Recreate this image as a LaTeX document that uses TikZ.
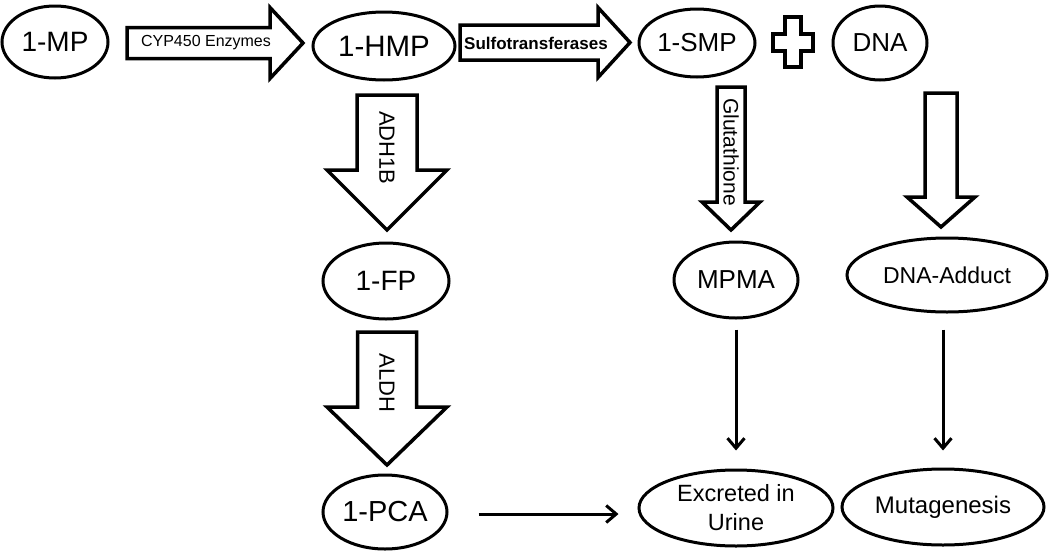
\documentclass[tikz,border=0pt]{standalone}
\usepackage{fontspec}
\setmainfont{Liberation Sans}
\usetikzlibrary{shapes.geometric,arrows.meta}
\tikzset{
  ell/.style={ellipse, draw, line width=3pt, inner sep=0pt, align=center},
  blk/.style={draw, line width=3.5pt, line join=miter, fill=white},
  thinarr/.style={line width=3pt, -{Straight Barb[length=10pt,width=17pt]}},
  big/.style={font=\fontsize{28}{32}\selectfont},
  mid/.style={font=\fontsize{26}{30}\selectfont},
  small/.style={font=\fontsize{23.5}{29}\selectfont},
  vlab/.style={rotate=-90, inner sep=0pt, font=\fontsize{22}{26}\selectfont},
}
\newcommand{\hblock}[6]{\draw[blk] (#1,#3-#4) -- (#2-#6,#3-#4) -- (#2-#6,#3-#5) -- (#2,#3) -- (#2-#6,#3+#5) -- (#2-#6,#3+#4) -- (#1,#3+#4) -- cycle;}
\newcommand{\vblock}[6]{\draw[blk] (#1-#4,#2) -- (#1+#4,#2) -- (#1+#4,#3-#6) -- (#1+#5,#3-#6) -- (#1,#3) -- (#1-#5,#3-#6) -- (#1-#4,#3-#6) -- cycle;}
\begin{document}
\begin{tikzpicture}[x=1pt,y=-1pt]
\useasboundingbox (0,0) rectangle (1050,552);
% ellipses
\node[ell, big, minimum width=106pt, minimum height=72pt] (mp) at (55,42) {1-MP};
\node[ell, big, minimum width=142pt, minimum height=68pt, font=\fontsize{29.5}{33}\selectfont] (hmp) at (384,46) {1-HMP};
\node[ell, mid, minimum width=116pt, minimum height=68pt] (smp) at (697,43) {1-SMP};
\node[ell, mid, minimum width=94pt, minimum height=74pt] (dna) at (880,43) {DNA};
\node[ell, big, minimum width=126pt, minimum height=76pt] (fp) at (386,281) {1-FP};
\node[ell, big, minimum width=124pt, minimum height=74pt, font=\fontsize{29}{33}\selectfont] (pca) at (385,512) {1-PCA};
\node[ell, mid, minimum width=124pt, minimum height=76pt] (mpma) at (736,280) {MPMA};
\node[ell, small, minimum width=200pt, minimum height=74pt, font=\fontsize{23}{28}\selectfont] (adduct) at (947,275) {DNA-Adduct};
\node[ell, small, minimum width=194pt, minimum height=76pt] (urine) at (736,508) {Excreted in\\Urine};
\node[ell, small, minimum width=202pt, minimum height=76pt, font=\fontsize{24}{28}\selectfont] (muta) at (943,507) {Mutagenesis};
% block arrows
\hblock{127}{303}{43}{15.5}{35.5}{33}
\node[inner sep=0pt, font=\fontsize{16}{18}\selectfont] (cyp) at (206,43) {CYP450 Enzymes};
\hblock{460}{630}{42.5}{17.5}{35}{32}
\node[inner sep=0pt, font=\bfseries\fontsize{17}{19}\selectfont] (sulfo) at (536,43) {Sulfotransferases};
\vblock{387}{95}{230}{30}{60}{60}
\node[vlab] (adh) at (387,148) {ADH1B};
\vblock{387}{332}{465}{29.5}{60}{58}
\node[vlab] (aldh) at (387,383) {ALDH};
\vblock{731}{87}{230}{14}{29}{28}
\node[vlab, font=\fontsize{21}{25}\selectfont] (glu) at (731,152) {Glutathione};
\vblock{941}{93}{227}{16}{34}{30}
% plus sign
\draw[blk] (785,17) -- (801,17) -- (801,34) -- (813,34) -- (813,51) -- (801,51) -- (801,67) -- (785,67) -- (785,51) -- (773,51) -- (773,34) -- (785,34) -- cycle;
% thin arrows
\draw[thinarr, shorten <=10pt, shorten >=18pt] (mpma.south) -- (mpma.south |- urine.north);
\draw[thinarr, shorten <=16pt, shorten >=17pt] (adduct.south -| muta.north) -- (muta.north);
\draw[thinarr, shorten <=30pt, shorten >=19pt] ([yshift=-2pt]pca.east) -- ([yshift=-2pt]pca.east -| urine.west);
\end{tikzpicture}
\end{document}
